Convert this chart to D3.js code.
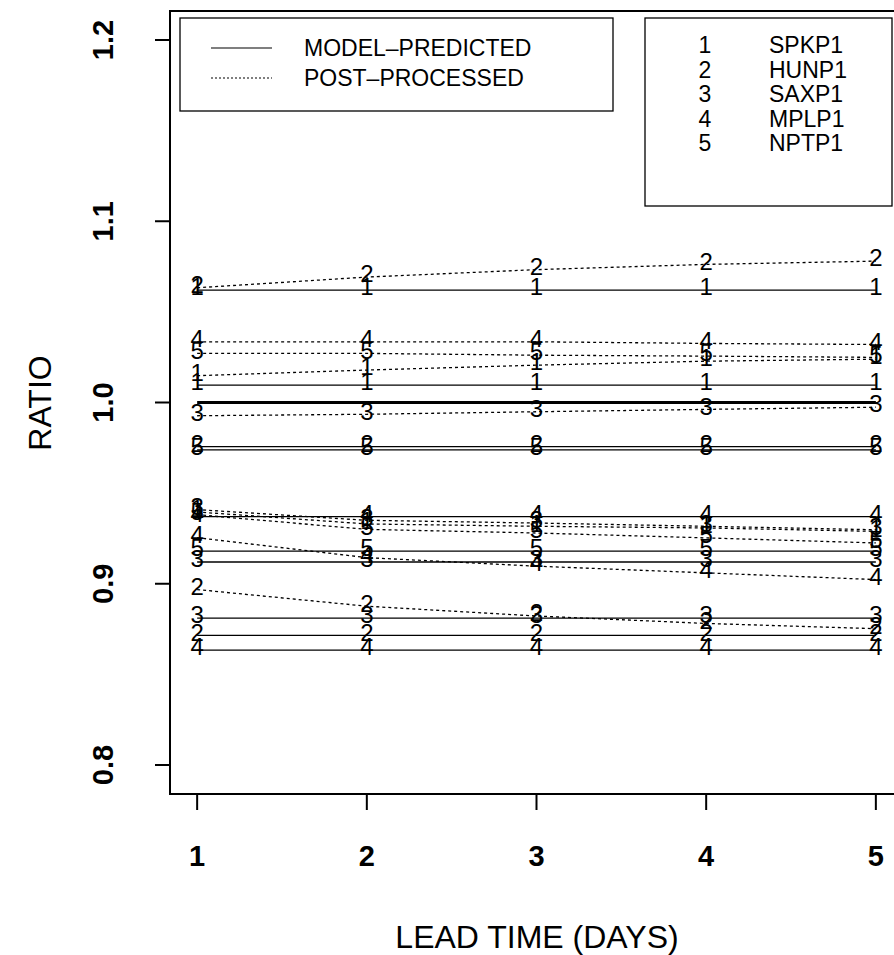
<!DOCTYPE html>
<html><head><meta charset="utf-8">
<script src="https://cdnjs.cloudflare.com/ajax/libs/d3/7.8.5/d3.min.js"></script>
<style>body{margin:0;background:#fff}svg{display:block}text{font-family:"Liberation Sans",Arial,Helvetica,sans-serif}</style>
</head><body><svg id="c" width="894" height="955"></svg>
<script>
// ---- data ----
const leadDays = [1, 2, 3, 4, 5];
const yTicks = [0.8, 0.9, 1.0, 1.1, 1.2];
const stationNames = ["SPKP1", "HUNP1", "SAXP1", "MPLP1", "NPTP1"];
const stationCodes = ["1", "2", "3", "4", "5"];
const typeNames = ["MODEL\u2013PREDICTED", "POST\u2013PROCESSED"];
// model-predicted (constant over lead time)
const modelStation = [1, 1, 2, 5, 4, 5, 3, 3, 2, 4];
const modelRatio = [1.062, 1.0096, 0.9757, 0.9739, 0.937, 0.918, 0.912, 0.881, 0.8715, 0.8634];
// post-processed
const postStation = [2, 4, 5, 1, 3, 3, 1, 5, 4, 2];
const post1 = [1.0633, 1.0692, 1.0733, 1.0762, 1.0780];
const post2 = [1.0335, 1.0335, 1.0335, 1.0326, 1.0320];
const post3 = [1.0271, 1.0271, 1.0261, 1.0256, 1.0249];
const post4 = [1.0148, 1.0179, 1.0206, 1.0228, 1.0239];
const post5 = [0.9927, 0.9935, 0.9949, 0.9962, 0.9974];
const post6 = [0.9409, 0.9350, 0.9335, 0.9317, 0.9298];
const post7 = [0.9396, 0.9330, 0.9317, 0.9308, 0.9289];
const post8 = [0.9381, 0.9300, 0.9280, 0.9253, 0.9225];
const post9 = [0.9254, 0.9144, 0.9097, 0.9060, 0.9023];
const post10 = [0.8968, 0.8876, 0.8822, 0.8781, 0.8752];
const postRatio = [post1, post2, post3, post4, post5, post6, post7, post8, post9, post10];
const refRatio = 1.0;

// ---- chart ----
const svg = d3.select("#c");
const x = d3.scaleLinear().domain([0.84, 5.16]).range([170, 903]);
const y = d3.scaleLinear().domain([0.784, 1.216]).range([794, 11]);

const series = [];
modelStation.forEach((s, i) => series.push({st: s, type: 0, vals: leadDays.map(() => modelRatio[i])}));
postStation.forEach((s, i) => series.push({st: s, type: 1, vals: postRatio[i]}));

const line = d3.line().x((d, i) => x(leadDays[i])).y(d => y(d));
const g = svg.append("g");
g.append("path").attr("d", line(leadDays.map(() => refRatio)))
  .attr("fill", "none").attr("stroke", "#000").attr("stroke-width", 3);
series.forEach(s => {
  g.append("path").attr("d", line(s.vals)).attr("fill", "none")
    .attr("stroke", "#000").attr("stroke-width", 1.3)
    .attr("stroke-dasharray", s.type ? "3,3" : null);
});
series.forEach(s => {
  s.vals.forEach((v, i) => {
    g.append("text").attr("x", x(leadDays[i])).attr("y", y(v)).attr("dy", "0.22em")
      .attr("text-anchor", "middle").attr("font-size", 24).text(stationCodes[s.st - 1]);
  });
});

svg.append("rect").attr("x", 170).attr("y", 11).attr("width", 733).attr("height", 783)
  .attr("fill", "none").attr("stroke", "#000").attr("stroke-width", 2);

const ya = svg.append("g");
yTicks.forEach(t => {
  ya.append("line").attr("x1", 155).attr("x2", 170).attr("y1", y(t)).attr("y2", y(t))
    .attr("stroke", "#000").attr("stroke-width", 2);
  ya.append("text").attr("transform", `translate(103,${y(t)}) rotate(-90)`)
    .attr("text-anchor", "middle").attr("dy", "0.35em").attr("font-size", 29).attr("font-weight", "bold")
    .text(d3.format(".1f")(t));
});
const xa = svg.append("g");
leadDays.forEach(t => {
  xa.append("line").attr("x1", x(t)).attr("x2", x(t)).attr("y1", 794).attr("y2", 810)
    .attr("stroke", "#000").attr("stroke-width", 2);
  xa.append("text").attr("x", x(t)).attr("y", 856).attr("dy", "0.35em").attr("text-anchor", "middle")
    .attr("font-size", 29).attr("font-weight", "bold").text(t);
});
svg.append("text").attr("x", 537).attr("y", 937).attr("dy", "0.35em").attr("text-anchor", "middle")
  .attr("font-size", 32).text("LEAD TIME (DAYS)");
svg.append("text").attr("transform", "translate(40,403) rotate(-90)").attr("dy", "0.35em")
  .attr("text-anchor", "middle").attr("font-size", 32).text("RATIO");

const l1 = svg.append("g");
l1.append("rect").attr("x", 180).attr("y", 18).attr("width", 433).attr("height", 93)
  .attr("fill", "#fff").attr("stroke", "#000").attr("stroke-width", 1.3);
typeNames.forEach((n, i) => {
  const yy = 48 + i * 30;
  l1.append("line").attr("x1", 211).attr("x2", 272).attr("y1", yy).attr("y2", yy)
    .attr("stroke", "#000").attr("stroke-width", 1.2).attr("stroke-dasharray", i ? "2,2" : null);
  l1.append("text").attr("x", 304).attr("y", yy).attr("dy", "0.35em").attr("font-size", 23).text(n);
});
const l2 = svg.append("g");
l2.append("rect").attr("x", 645).attr("y", 18).attr("width", 247).attr("height", 188)
  .attr("fill", "#fff").attr("stroke", "#000").attr("stroke-width", 1.3);
stationNames.forEach((n, i) => {
  const yy = 45 + i * 24.5;
  l2.append("text").attr("x", 705).attr("y", yy).attr("dy", "0.35em").attr("text-anchor", "middle")
    .attr("font-size", 23).text(stationCodes[i]);
  l2.append("text").attr("x", 769).attr("y", yy).attr("dy", "0.35em").attr("font-size", 23).text(n);
});
</script></body></html>
